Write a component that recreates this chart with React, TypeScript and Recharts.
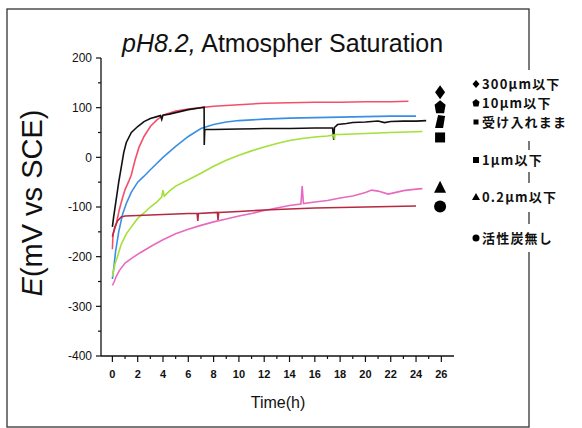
import React from "react";
import { LineChart, Line, XAxis, YAxis, ReferenceDot } from "recharts";

// ---- data (time in hours, potential E in mV vs SCE) ----
const redT = [0, 0.05, 0.3, 0.55, 0.8, 1, 1.3, 1.5, 1.8, 2.1, 2.5, 3, 3.5, 4, 5, 6, 7, 8, 10, 12, 14, 16, 18, 20, 22, 23.4];
const redE = [-185, -155, -135, -105, -82, -65, -48, -35, -5, 20, 42, 62, 75, 85, 93, 97, 100, 103, 106, 109, 110, 111, 111, 112, 112, 113];

const blueT = [0, 0.1, 0.25, 0.5, 0.8, 1.1, 1.5, 2, 2.5, 3, 4, 5, 6, 7, 8, 9, 10, 12, 14, 16, 18, 20, 22, 24];
const blueE = [-245, -225, -190, -150, -115, -93, -70, -50, -38, -25, 0, 22, 42, 58, 66, 71, 74, 77, 79, 80, 81, 82, 83, 83];

const blackT = [0, 0.1, 0.3, 0.5, 0.7, 0.9, 1.1, 1.5, 2, 2.5, 3, 3.8, 3.9, 4, 4.5, 5, 6, 7, 7.25, 7.26, 7.3, 8, 10, 12, 14, 16, 17.4, 17.5, 17.55, 17.8, 18.5, 19, 20, 21, 21.5, 22, 23, 24, 24.8];
const blackE = [-140, -120, -85, -50, -20, 10, 30, 50, 62, 72, 78, 84, 76, 85, 87, 90, 96, 100, 101, 25, 56, 56, 57, 58, 58, 59, 59, 35, 60, 66, 68, 70, 71, 73, 70, 72, 73, 73, 74];

const greenT = [0, 0.2, 0.4, 0.7, 1.1, 1.5, 2, 2.5, 3, 3.5, 3.9, 4, 4.1, 4.5, 5, 6, 7, 8, 9, 10, 11, 12, 13, 14, 15, 16, 17, 17.5, 17.55, 17.6, 18, 19, 20, 22, 24.5];
const greenE = [-240, -215, -200, -175, -154, -140, -123, -112, -100, -90, -80, -66, -78, -68, -58, -45, -32, -18, -6, 4, 13, 21, 28, 34, 38, 41, 43, 45, 36, 46, 46, 47, 48, 50, 52];

const pinkT = [0, 0.15, 0.3, 0.55, 1, 1.6, 2.2, 3.2, 4, 5, 6, 7, 8, 9, 10, 11, 12, 13, 14, 14.9, 15, 15.1, 16, 17, 18, 19, 20, 20.5, 21, 21.8, 22.5, 23, 24, 24.5];
const pinkE = [-258, -250, -240, -228, -213, -202, -192, -177, -166, -154, -145, -137, -130, -124, -118, -113, -107, -102, -97, -94, -58, -93, -90, -87, -82, -78, -71, -66, -68, -74, -70, -67, -64, -63];

const darkT = [0, 0.2, 0.4, 0.7, 1, 2, 4, 6, 6.7, 6.75, 6.8, 8.3, 8.35, 8.4, 10, 12, 14, 16, 18, 20, 22, 24];
const darkE = [-160, -140, -128, -120, -118, -117, -115, -113, -113, -128, -113, -111, -126, -111, -109, -106, -104, -102, -101, -100, -99, -98];

// end-of-trace markers (black symbols on the right)
const markerT = 25.9;
const markerE = [131, 101, 71, 40, -61, -99];
const markerShapes = ["diamond", "pentagon", "skew", "square", "triangle", "circle"];

const legendLabels = ["300μm以下", "10μm以下", "受け入れまま", "1μm以下", "0.2μm以下", "活性炭無し"];

const xTicks = [0, 1, 2, 3, 4, 5, 6, 7, 8, 9, 10, 11, 12, 13, 14, 15, 16, 17, 18, 19, 20, 21, 22, 23, 24, 25, 26];
const yTicks = [-400, -350, -300, -250, -200, -150, -100, -50, 0, 50, 100, 150, 200];

const build = (t: number[], e: number[]) => t.map((v, i) => ({ t: v, e: e[i] }));

const series = [
  { name: "300μm以下", color: "#f2506a", data: build(redT, redE) },
  { name: "10μm以下", color: "#3b8fe3", data: build(blueT, blueE) },
  { name: "受け入れまま", color: "#111111", data: build(blackT, blackE) },
  { name: "1μm以下", color: "#a4e03a", data: build(greenT, greenE) },
  { name: "0.2μm以下", color: "#e86ac0", data: build(pinkT, pinkE) },
  { name: "活性炭無し", color: "#b52a42", data: build(darkT, darkE) },
];

const tickFont = "'Liberation Sans Narrow', 'Liberation Sans', Arial, sans-serif";

const YTick = (props: any) => {
  const { x, y, payload } = props;
  const v = payload.value;
  const major = v % 100 === 0;
  return (
    <g>
      <line x1={x - (major ? 5 : 3)} x2={x} y1={y} y2={y} stroke="#111" strokeWidth={1.2} />
      {major && (
        <text x={x - 9} y={y} dy="0.35em" textAnchor="end" fontSize={12} fontFamily={tickFont} fill="#111">
          {v}
        </text>
      )}
    </g>
  );
};

const XTick = (props: any) => {
  const { x, y, payload } = props;
  const v = payload.value;
  const major = v % 2 === 0;
  return (
    <g>
      <line x1={x} x2={x} y1={y} y2={y + (major ? 6 : 3)} stroke="#111" strokeWidth={1.2} />
      {major && (
        <text x={x} y={y + 22} textAnchor="middle" fontSize={11} fontWeight="bold" fontFamily={tickFont} fill="#111">
          {v}
        </text>
      )}
    </g>
  );
};

const MarkerShape = (kind: string) => (props: any) => {
  const { cx, cy } = props;
  const f = "#000";
  switch (kind) {
    case "diamond":
      return <polygon points={`${cx},${cy - 7} ${cx + 5},${cy} ${cx},${cy + 7} ${cx - 5},${cy}`} fill={f} />;
    case "pentagon":
      return <polygon points={`${cx},${cy - 7} ${cx + 5.5},${cy - 2.5} ${cx + 4},${cy + 6} ${cx - 4},${cy + 6} ${cx - 5.5},${cy - 2.5}`} fill={f} />;
    case "skew":
      return <polygon points={`${cx - 2},${cy - 7} ${cx + 5},${cy - 6} ${cx + 3},${cy + 6} ${cx - 5},${cy + 6}`} fill={f} />;
    case "square":
      return <rect x={cx - 5} y={cy - 5} width={10} height={10} fill={f} />;
    case "triangle":
      return <polygon points={`${cx},${cy - 7} ${cx + 6},${cy + 5} ${cx - 6},${cy + 5}`} fill={f} />;
    default:
      return <circle cx={cx} cy={cy} r={6} fill={f} />;
  }
};

// legend layout rows (text baseline, white box)
const legendRows = [
  { base: 89, y0: 70, y1: 97 },
  { base: 108, y0: 97, y1: 115 },
  { base: 127, y0: 115, y1: 141 },
  { base: 165, y0: 150, y1: 172 },
  { base: 202, y0: 183, y1: 212 },
  { base: 243, y0: 224, y1: 252 },
];

const LegendGlyph = ({ kind, cx, cy }: { kind: string; cx: number; cy: number }) => {
  switch (kind) {
    case "diamond":
      return <polygon points={`${cx},${cy - 4} ${cx + 3.5},${cy} ${cx},${cy + 4} ${cx - 3.5},${cy}`} fill="#000" />;
    case "pentagon":
      return <polygon points={`${cx},${cy - 4} ${cx + 3.5},${cy - 1.3} ${cx + 2.5},${cy + 3.5} ${cx - 2.5},${cy + 3.5} ${cx - 3.5},${cy - 1.3}`} fill="#000" />;
    case "skew":
      return <rect x={cx - 2.5} y={cy - 2.5} width={5} height={5} fill="#000" />;
    case "square":
      return <rect x={cx - 3} y={cy - 3} width={6} height={6} fill="#000" />;
    case "triangle":
      return <polygon points={`${cx},${cy - 4} ${cx + 4},${cy + 3} ${cx - 4},${cy + 3}`} fill="#000" />;
    default:
      return <circle cx={cx} cy={cy} r={3.5} fill="#000" />;
  }
};

export default function App() {
  return (
    <div style={{ position: "absolute", left: 0, top: 0, width: 582, height: 428, background: "#fff", overflow: "hidden" }}>
      <LineChart width={582} height={428} margin={{ top: 58, right: 128, bottom: 52, left: 61 }}>
        <XAxis
          type="number"
          dataKey="t"
          domain={[-0.9, 27]}
          ticks={xTicks}
          interval={0}
          height={20}
          tickSize={0}
          tickMargin={0}
          tickLine={false}
          tick={<XTick />}
          axisLine={{ stroke: "#111", strokeWidth: 1.3 }}
          allowDataOverflow
        />
        <YAxis
          type="number"
          dataKey="e"
          domain={[-400, 200]}
          ticks={yTicks}
          interval={0}
          width={40}
          tickSize={0}
          tickMargin={0}
          tickLine={false}
          tick={<YTick />}
          axisLine={{ stroke: "#111", strokeWidth: 1.3 }}
          allowDataOverflow
        />
        {series.map((s) => (
          <Line
            key={s.name}
            data={s.data}
            dataKey="e"
            name={s.name}
            type="linear"
            stroke={s.color}
            strokeWidth={1.6}
            dot={false}
            isAnimationActive={false}
          />
        ))}
        {markerE.map((v, i) => (
          <ReferenceDot key={i} x={markerT} y={v} r={6} shape={MarkerShape(markerShapes[i])} ifOverflow="visible" />
        ))}
      </LineChart>
      <svg width={582} height={428} style={{ position: "absolute", left: 0, top: 0, pointerEvents: "none" }}>
        <rect x={7} y={9} width={522} height={418} fill="none" stroke="#333" strokeWidth={1.3} />
        <text x={122} y={52} fontSize={25} fontFamily="'Liberation Sans', Arial, sans-serif" fill="#111">
          <tspan fontStyle="italic">pH8.2,</tspan>
          <tspan> Atmospher Saturation</tspan>
        </text>
        <text
          x={42}
          y={203}
          textAnchor="middle"
          fontSize={29}
          fontFamily="'Liberation Sans', Arial, sans-serif"
          fill="#111"
          transform="rotate(-90, 42, 203)"
        >
          <tspan fontStyle="italic">E</tspan>
          <tspan>(mV vs SCE)</tspan>
        </text>
        <text x={278} y={408} textAnchor="middle" fontSize={16} fontFamily="'Liberation Sans', Arial, sans-serif" fill="#111">
          Time(h)
        </text>
        {legendRows.map((r, i) => (
          <g key={i}>
            <rect x={469} y={r.y0} width={113} height={r.y1 - r.y0} fill="#fff" />
            <LegendGlyph kind={markerShapes[i]} cx={476} cy={r.base - 5} />
            <text
              x={482}
              y={r.base}
              fontSize={13}
              fontWeight="bold"
              letterSpacing={1.2}
              fontFamily="'Noto Sans CJK JP', 'Noto Sans', sans-serif"
              fill="#111"
            >
              {legendLabels[i]}
            </text>
          </g>
        ))}
      </svg>
    </div>
  );
}
